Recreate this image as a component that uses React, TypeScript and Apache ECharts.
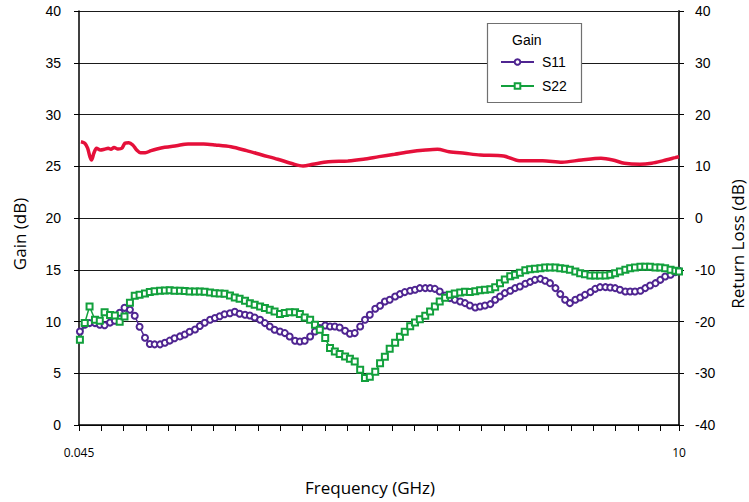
import React, { useEffect, useRef } from "react";
import * as echarts from "echarts";

// Frequency sweep (GHz)
const F_MIN = 0.045;
const F_MAX = 10;
const xTickLabels = ["0.045", "10"];

// Gain (dB), left axis
const freqGain = [
  0.077, 0.141, 0.188, 0.226, 0.253, 0.291, 0.336, 0.4, 0.465, 0.53,
  0.575, 0.626, 0.691, 0.756, 0.807, 0.872, 0.937, 1.002, 1.066, 1.144,
  1.241, 1.337, 1.467, 1.661, 1.855, 2.113, 2.307, 2.566, 2.825, 3.083,
  3.342, 3.601, 3.762, 3.923, 4.182, 4.506, 4.763, 5.022, 5.282, 5.539,
  5.798, 5.992, 6.185, 6.444, 6.703, 7.09, 7.349, 7.736, 8.06, 8.384,
  8.706, 8.9, 9.095, 9.352, 9.546, 9.741, 9.935, 10.0,
];
const gainDb = [
  27.37, 27.22, 26.74, 25.93, 25.61, 26.25, 26.74, 26.57, 26.64, 26.74,
  26.64, 26.8, 26.67, 26.74, 27.22, 27.28, 27.06, 26.57, 26.31, 26.31,
  26.51, 26.67, 26.83, 26.99, 27.15, 27.15, 27.06, 26.89, 26.51, 26.09,
  25.68, 25.22, 25.03, 25.19, 25.44, 25.51, 25.68, 25.93, 26.16, 26.41,
  26.57, 26.64, 26.41, 26.25, 26.09, 25.99, 25.54, 25.54, 25.39, 25.61,
  25.77, 25.61, 25.29, 25.19, 25.29, 25.54, 25.83, 25.93,
];

// Return loss sweep (GHz), right axis
const freqRL = [
  0.06, 0.14, 0.22, 0.31, 0.39, 0.47, 0.56, 0.64, 0.72, 0.8,
  0.89, 0.97, 1.05, 1.14, 1.22, 1.3, 1.39, 1.47, 1.55, 1.63,
  1.72, 1.8, 1.88, 1.97, 2.05, 2.13, 2.22, 2.3, 2.38, 2.46,
  2.55, 2.63, 2.71, 2.8, 2.88, 2.96, 3.05, 3.13, 3.21, 3.29,
  3.38, 3.46, 3.54, 3.63, 3.71, 3.79, 3.88, 3.96, 4.04, 4.13,
  4.21, 4.29, 4.37, 4.46, 4.54, 4.62, 4.71, 4.79, 4.87, 4.96,
  5.04, 5.12, 5.2, 5.29, 5.37, 5.45, 5.54, 5.62, 5.7, 5.79,
  5.87, 5.95, 6.03, 6.12, 6.2, 6.28, 6.37, 6.45, 6.53, 6.62,
  6.7, 6.78, 6.87, 6.95, 7.03, 7.11, 7.2, 7.28, 7.36, 7.45,
  7.53, 7.61, 7.7, 7.78, 7.86, 7.95, 8.03, 8.11, 8.19, 8.28,
  8.36, 8.44, 8.53, 8.61, 8.69, 8.78, 8.86, 8.94, 9.02, 9.11,
  9.19, 9.27, 9.36, 9.44, 9.52, 9.61, 9.69, 9.77, 9.86, 9.94,
  10.0,
];
const s11 = [
  -21.93, -20.64, -20.31, -20.31, -20.64, -20.73, -20.21, -19.86, -18.32, -17.36,
  -17.74, -18.9, -21.02, -23.15, -24.36, -24.42, -24.42, -24.11, -23.69, -23.24,
  -22.88, -22.51, -21.99, -21.54, -20.87, -20.25, -19.67, -19.34, -18.98, -18.61,
  -18.42, -18.13, -18.51, -18.71, -18.84, -19.23, -19.67, -20.31, -20.97, -21.6,
  -21.93, -22.24, -22.9, -23.73, -23.86, -23.73, -22.9, -21.93, -21.27, -20.77,
  -20.97, -20.97, -21.16, -21.8, -22.37, -22.24, -20.97, -19.67, -18.71, -17.55,
  -16.97, -16.14, -15.81, -15.17, -14.71, -14.32, -14.07, -13.88, -13.55, -13.55,
  -13.55, -13.69, -14.21, -14.98, -15.48, -15.81, -16.14, -16.45, -16.91, -17.3,
  -17.1, -16.91, -16.64, -15.81, -15.17, -14.52, -14.07, -13.55, -13.24, -12.72,
  -12.34, -11.95, -11.76, -12.14, -12.59, -13.55, -14.71, -15.81, -16.45, -15.81,
  -15.37, -14.85, -14.32, -13.69, -13.36, -13.36, -13.44, -13.55, -13.88, -14.21,
  -14.21, -14.21, -14.07, -13.55, -13.05, -12.59, -11.95, -11.31, -10.98, -10.46,
  -10.21,
];
const s22 = [
  -23.53, -20.31, -17.1, -19.67, -19.86, -18.22, -18.76, -18.86, -20.06, -19.03,
  -16.39, -15.04, -14.81, -14.59, -14.29, -14.17, -14.07, -14.03, -13.98, -14.07,
  -14.07, -14.11, -14.21, -14.21, -14.21, -14.25, -14.38, -14.52, -14.58, -14.65,
  -14.98, -15.37, -15.62, -16.0, -16.45, -16.78, -17.1, -17.41, -17.74, -18.07,
  -18.57, -18.38, -18.19, -18.19, -18.57, -19.23, -19.67, -20.64, -21.6, -23.2,
  -25.14, -25.79, -26.29, -26.76, -27.2, -27.72, -29.32, -30.93, -30.68, -29.71,
  -28.07, -26.81, -25.27, -24.11, -22.95, -21.99, -20.93, -20.21, -19.58, -18.9,
  -18.07, -17.1, -16.14, -15.39, -14.85, -14.59, -14.4, -14.25, -14.29, -14.15,
  -13.94, -13.88, -13.75, -13.4, -12.63, -11.89, -11.27, -10.95, -10.6, -10.12,
  -9.92, -9.83, -9.69, -9.58, -9.58, -9.58, -9.69, -9.83, -10.02, -10.35,
  -10.66, -10.85, -11.12, -11.12, -11.12, -11.12, -10.98, -10.66, -10.35, -10.02,
  -9.69, -9.58, -9.44, -9.44, -9.44, -9.58, -9.58, -9.69, -10.02, -10.21,
  -10.35,
];

const TICK_STEP = 0.371;
const SPAN = Math.round((F_MAX - F_MIN) * 1000) / 1000;

const pair = (fs: number[], vs: number[]) =>
  fs.map((f, i) => [Math.round((f - F_MIN) * 10000) / 10000, vs[i]]);

const labelFont = "'Liberation Sans', Arial, sans-serif";
const titleFont = "'Open Sans', 'Noto Sans', sans-serif";

export default function App() {
  const ref = useRef<HTMLDivElement>(null);
  useEffect(() => {
    if (!ref.current) return;
    const chart = echarts.init(ref.current, undefined, { renderer: "svg" });
    chart.setOption({
      animation: false,
      backgroundColor: "#fff",
      grid: { left: 79, top: 11, right: 70, bottom: 77, containLabel: false },
      xAxis: [
        {
          type: "value",
          min: 0,
          max: SPAN,
          interval: TICK_STEP,
          axisLine: { show: true, lineStyle: { color: "#000", width: 1.5 } },
          axisTick: { show: true, length: 6, lineStyle: { color: "#000", width: 1 } },
          splitLine: { show: false },
          axisLabel: {
            showMinLabel: true,
            showMaxLabel: true,
            hideOverlap: false,
            margin: 21,
            fontSize: 12,
            fontFamily: titleFont,
            color: "#000",
            formatter: (v: number) =>
              v < 1e-6 ? xTickLabels[0] : v > SPAN - 1e-3 ? xTickLabels[1] : "",
          },
        },
      ],
      yAxis: [
        {
          type: "value",
          min: 0,
          max: 40,
          interval: 5,
          position: "left",
          axisLine: { show: true, lineStyle: { color: "#000", width: 1.5 } },
          axisTick: { show: true, length: 5, lineStyle: { color: "#000" } },
          axisLabel: { margin: 18, fontSize: 14, color: "#000", fontFamily: labelFont },
          splitLine: { show: true, lineStyle: { color: "#1a1a1a", width: 1 } },
        },
        {
          type: "value",
          min: -40,
          max: 40,
          interval: 10,
          position: "right",
          axisLine: { show: true, lineStyle: { color: "#333", width: 2 } },
          axisTick: { show: true, length: 5, lineStyle: { color: "#000" } },
          axisLabel: { margin: 16, fontSize: 14, color: "#000", fontFamily: labelFont },
          splitLine: { show: false },
        },
      ],
      legend: {
        orient: "vertical",
        left: 500,
        top: 54,
        padding: 0,
        itemWidth: 33,
        itemHeight: 7,
        itemGap: 8,
        data: ["S11", "S22"],
        textStyle: {
          fontSize: 14,
          fontFamily: labelFont,
          color: "#000",
          padding: [0, 0, 0, 3],
          lineHeight: 16,
        },
      },
      graphic: [
        {
          type: "rect",
          z: 3,
          shape: { x: 487.5, y: 23.5, width: 94, height: 79 },
          style: { fill: "#fff", stroke: "#707070", lineWidth: 1.2 },
        },
        {
          type: "text",
          z: 4,
          x: 512,
          y: 39.5,
          style: {
            text: "Gain",
            fontSize: 14,
            fontFamily: labelFont,
            fill: "#000",
            verticalAlign: "middle",
          },
        },
        {
          type: "text",
          x: 19,
          y: 234,
          rotation: Math.PI / 2,
          style: {
            text: "Gain (dB)",
            fontSize: 17,
            fontFamily: titleFont,
            fill: "#000",
            align: "center",
            verticalAlign: "middle",
          },
        },
        {
          type: "text",
          x: 737,
          y: 244,
          rotation: Math.PI / 2,
          style: {
            text: "Return Loss (dB)",
            fontSize: 17,
            fontFamily: titleFont,
            fill: "#000",
            align: "center",
            verticalAlign: "middle",
          },
        },
        {
          type: "text",
          x: 370,
          y: 487,
          style: {
            text: "Frequency (GHz)",
            fontSize: 17,
            fontFamily: titleFont,
            fill: "#000",
            align: "center",
            verticalAlign: "middle",
          },
        },
      ],
      series: [
        {
          name: "Gain",
          type: "line",
          yAxisIndex: 0,
          data: pair(freqGain, gainDb),
          showSymbol: false,
          symbol: "none",
          smooth: 0.3,
          lineStyle: { color: "#e5103a", width: 3.5 },
          itemStyle: { color: "#e5103a" },
        },
        {
          name: "S11",
          type: "line",
          yAxisIndex: 1,
          data: pair(freqRL, s11),
          symbol: "emptyCircle",
          symbolSize: 6,
          lineStyle: { color: "#4f2591", width: 1.5 },
          itemStyle: { color: "#4f2591", borderColor: "#4f2591", borderWidth: 1.2 },
        },
        {
          name: "S22",
          type: "line",
          yAxisIndex: 1,
          data: pair(freqRL, s22),
          symbol: "emptyRect",
          symbolSize: 6,
          lineStyle: { color: "#12a03c", width: 1.5 },
          itemStyle: { color: "#12a03c", borderColor: "#12a03c", borderWidth: 1.2 },
        },
      ],
    });
    return () => chart.dispose();
  }, []);
  return (
    <div
      ref={ref}
      style={{ position: "fixed", left: 0, top: 0, width: 749, height: 502, background: "#fff" }}
    />
  );
}
